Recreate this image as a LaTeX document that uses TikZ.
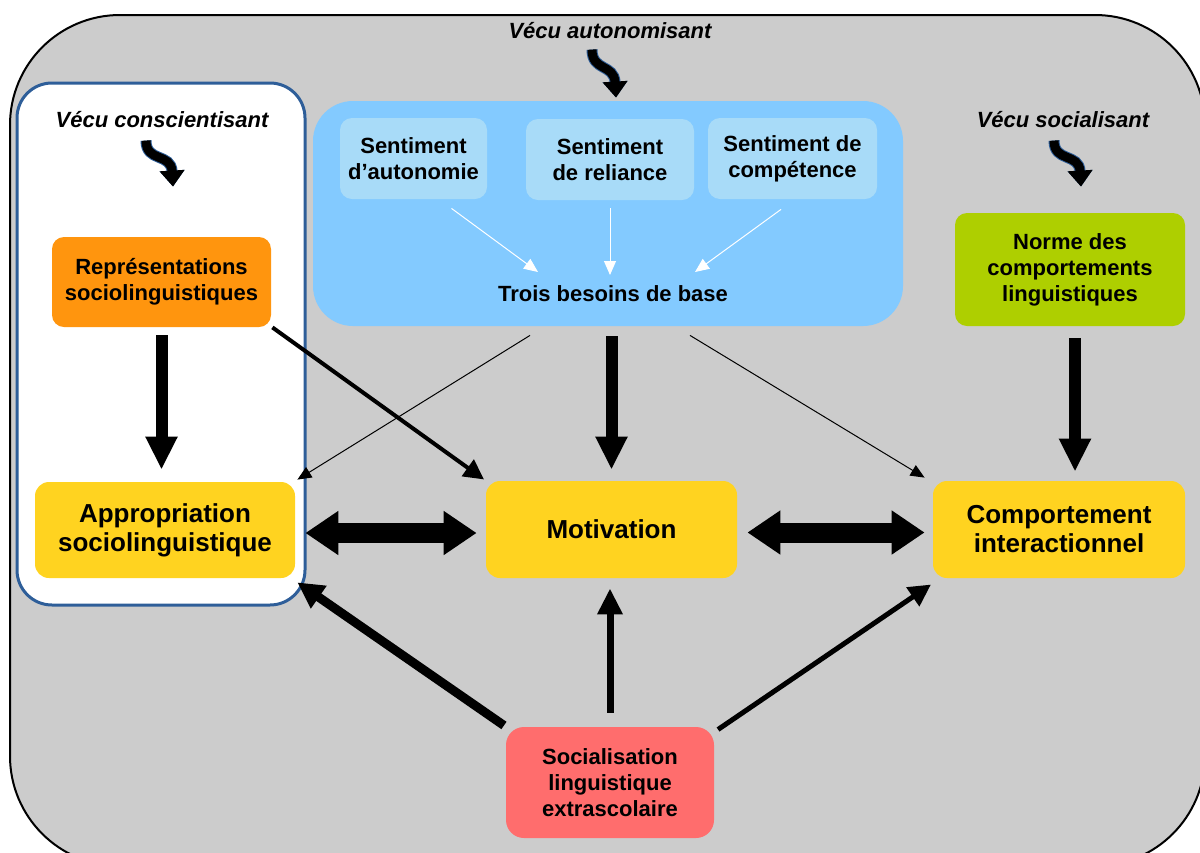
\documentclass[tikz,border=0pt]{standalone}
\usepackage{fontspec}
\setmainfont{Liberation Sans}
\usetikzlibrary{arrows.meta}

\definecolor{bggray}{HTML}{CCCCCC}
\definecolor{panelblue}{HTML}{2E5E99}
\definecolor{skyblue}{HTML}{83CAFF}
\definecolor{paleblue}{HTML}{A8DBF8}
\definecolor{mainyellow}{HTML}{FFD320}
\definecolor{reprorange}{HTML}{FF950E}
\definecolor{normegreen}{HTML}{AECF00}
\definecolor{socialred}{HTML}{FF6D6D}

\begin{document}
\begin{tikzpicture}[
  x=0.5pt, y=-0.5pt,
  box/.style={rounded corners=6pt, align=center, inner sep=2pt, font=\bfseries\fontsize{11}{13}\selectfont},
  mainbox/.style={box, fill=mainyellow, rounded corners=7pt, minimum height=48.5pt, font=\bfseries\fontsize{13}{14.5}\selectfont},
  sentbox/.style={box, fill=paleblue, minimum height=40.5pt},
  vecu/.style={font=\bfseries\itshape\fontsize{11}{13}\selectfont, inner sep=1pt},
  squiggle/.style={line width=4.5pt, black, preaction={draw=panelblue, line width=5.5pt},
                   -{Triangle[width=12pt,length=8pt]}},
  thickarrow/.style={line width=6pt, -{Triangle[width=15pt,length=16.5pt]}},
  doublearrow/.style={line width=10pt, {Triangle[width=21pt,length=16.5pt]}-{Triangle[width=21pt,length=16.5pt]}},
  midarrow/.style={line width=2pt, -{Triangle[width=10pt,length=10pt]}},
  thinarrow/.style={line width=0.5pt, -{Triangle[width=6pt,length=7pt]}},
  whitearrow/.style={white, line width=0.5pt, -{Triangle[width=6pt,length=7pt]}},
]

\useasboundingbox (0,0) rectangle (1200,852);
\clip (0,0) rectangle (1200,852);

%% ============ OUTER BACKGROUND ============
\draw[line width=1pt, fill=bggray, rounded corners=55pt] (10,15) rectangle (1205,866);

%% ============ LEFT PANEL (conscientisant) ============
\draw[line width=1.5pt, draw=panelblue, fill=white, rounded corners=17.5pt] (17,83) rectangle (305,605);

%% ============ BASIC NEEDS BOX ============
\node[box, fill=skyblue, rounded corners=20pt, minimum width=295pt, minimum height=112.5pt] (besoins) at (608,213.5) {};
\node[sentbox, minimum width=73.5pt] (s1) at (413.5,158.5) {Sentiment\\d'autonomie};
\node[sentbox, minimum width=84pt] (s2) at (610,159.5) {Sentiment\\de reliance};
\node[sentbox, minimum width=84.5pt] (s3) at (792.5,158.5) {Sentiment de\\compétence};
\node[box] (trois) at (613,294) {Trois besoins de base};

\draw[whitearrow] ([xshift=19pt,yshift=-4.5pt]s1.south) -- ([xshift=-37.5pt,yshift=11pt]trois.center);
\draw[whitearrow] ([yshift=-4pt]s2.south) -- ([xshift=-1.5pt,yshift=9.5pt]trois.center);
\draw[whitearrow] ([xshift=-5.75pt,yshift=-5pt]s3.south) -- ([xshift=41pt,yshift=11pt]trois.center);

%% ============ VECU LABELS ============
\node[vecu] (va) at (610,31) {Vécu autonomisant};
\node[vecu] (vc) at (162,120) {Vécu conscientisant};
\node[vecu] (vs) at (1063,120) {Vécu socialisant};

\draw[squiggle] ([xshift=-9pt,yshift=-4pt]va.south) .. controls +(0,22) and +(-2,-34) .. ++(24,48);
\draw[squiggle] ([xshift=-8pt,yshift=-5pt]vc.south) .. controls +(0,22) and +(-2,-34) .. ++(27,46);
\draw[squiggle] ([xshift=-4.5pt,yshift=-5pt]vs.south) .. controls +(0,22) and +(-2,-34) .. ++(27,46);

%% ============ MAIN BOXES ============
\node[box, fill=reprorange, minimum width=109.5pt, minimum height=45pt] (repr) at (161.5,282) {Représentations\\sociolinguistiques};
\node[box, fill=normegreen, minimum width=115pt, minimum height=56.5pt] (norme) at (1070,269.5) {Norme des\\comportements\\linguistiques};
\node[mainbox, minimum width=130pt, minimum height=48pt] (approp) at (165,530) {Appropriation\\sociolinguistique};
\node[mainbox, minimum width=125.5pt] (motiv) at (611.5,529.5) {Motivation};
\node[mainbox, minimum width=126pt] (comport) at (1059,529.5) {Comportement\\interactionnel};
\node[box, fill=socialred, rounded corners=9pt, minimum width=104pt, minimum height=55.5pt] (social) at (610,782.5) {Socialisation\\linguistique\\extrascolaire};

%% ============ ARROWS ============
\draw[thickarrow, shorten <=4pt, shorten >=6pt] (repr.south) -- (repr.south |- approp.north);
\draw[thickarrow, shorten <=5pt, shorten >=5.5pt] (besoins.south -| motiv.north) -- (motiv.north);
\draw[thickarrow, shorten <=6pt, shorten >=4.5pt] ([xshift=2.5pt]norme.south) -- ([xshift=2.5pt]norme.south |- comport.north);

\draw[midarrow, shorten >=1pt] ([xshift=0.5pt]repr.south east) -- (motiv.north west);
\draw[thinarrow] ([xshift=-39pt,yshift=-4.5pt]besoins.south) -- ([xshift=1pt,yshift=1pt]approp.north east);
\draw[thinarrow] ([xshift=41pt,yshift=-4.5pt]besoins.south) -- ([xshift=-4pt,yshift=1.5pt]comport.north west);

\draw[doublearrow, shorten <=5pt, shorten >=4.5pt] ([yshift=-1.5pt]approp.east) -- ([yshift=-1.5pt]approp.east -| motiv.west);
\draw[doublearrow, shorten <=5pt, shorten >=4pt] ([yshift=-1.5pt]motiv.east) -- ([yshift=-1.5pt]motiv.east -| comport.west);

\draw[line width=4.5pt, -{Triangle[width=13pt,length=13pt]}, shorten <=1pt] (social.north west) -- ([xshift=1pt,yshift=-2pt]approp.south east);
\draw[line width=3.5pt, -{Triangle[width=12pt,length=13pt]}, shorten <=7pt, shorten >=5pt] (social.north) -- (social.north |- motiv.south);
\draw[line width=2.5pt, -{Triangle[width=11pt,length=11pt]}, shorten <=1pt, shorten >=1pt] ([xshift=1pt,yshift=-2pt]social.north east) -- ([yshift=-2.5pt]comport.south west);

\end{tikzpicture}
\end{document}
